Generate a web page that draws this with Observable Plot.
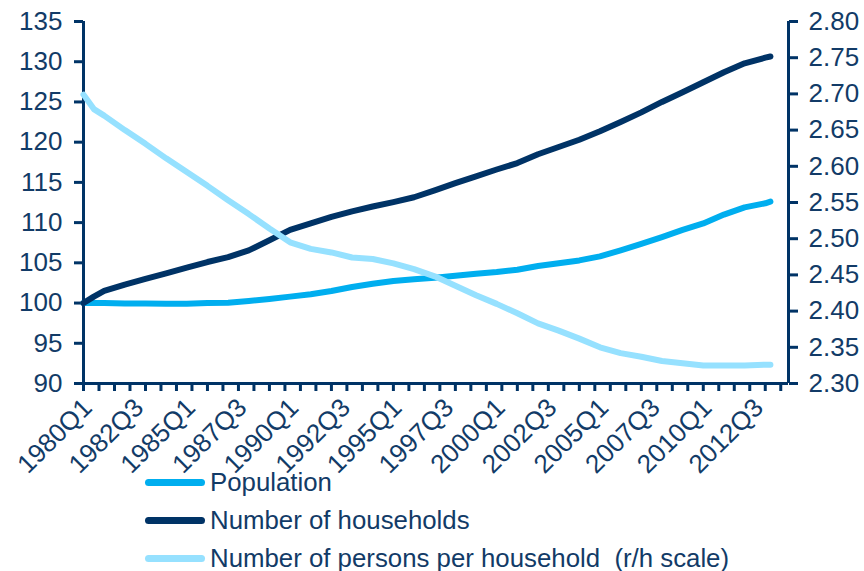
<!DOCTYPE html>
<html><head><meta charset="utf-8">
<script src="https://cdn.jsdelivr.net/npm/d3@7"></script>
<script src="https://cdn.jsdelivr.net/npm/@observablehq/plot@0.6"></script>
<style>
body{margin:0;background:#fff;font-family:"Liberation Sans",Arial,sans-serif;}
#wrap{position:relative;width:864px;height:571px;overflow:hidden;}
#wrap svg{position:absolute;left:0;top:0;}
.leg{position:absolute;left:145px;height:30px;display:flex;align-items:center;font-size:25.8px;color:#123b67;white-space:pre;}
.leg .sw{display:inline-block;width:60px;height:7px;border-radius:4px;margin-right:5px;}
</style></head><body><div id="wrap"></div>
<script>
const quarters = ["1980Q1","1980Q3","1981Q1","1982Q1","1983Q1","1984Q1","1985Q1","1986Q1","1987Q1","1988Q1","1989Q1","1990Q1","1991Q1","1992Q1","1993Q1","1994Q1","1995Q1","1996Q1","1997Q1","1998Q1","1999Q1","2000Q1","2001Q1","2002Q1","2003Q1","2004Q1","2005Q1","2006Q1","2007Q1","2008Q1","2009Q1","2010Q1","2011Q1","2012Q1","2013Q1","2013Q2"];
const population = [100.0,100.0,100.0,99.95,99.95,99.9,99.9,100.0,100.05,100.25,100.5,100.8,101.1,101.5,102.0,102.4,102.75,102.95,103.15,103.4,103.65,103.85,104.15,104.6,104.95,105.3,105.8,106.55,107.35,108.2,109.1,109.9,111.0,111.9,112.4,112.6];
const households = [100.0,100.8,101.5,102.3,103.0,103.7,104.4,105.1,105.7,106.55,107.8,109.1,109.9,110.7,111.4,112.0,112.55,113.15,114.0,114.9,115.75,116.6,117.4,118.5,119.4,120.3,121.35,122.5,123.7,125.0,126.2,127.45,128.7,129.8,130.5,130.65];
const personsPerHousehold = [2.699,2.679,2.670,2.650,2.631,2.611,2.592,2.573,2.553,2.534,2.514,2.495,2.486,2.481,2.474,2.472,2.466,2.458,2.448,2.435,2.422,2.410,2.397,2.383,2.373,2.362,2.350,2.342,2.337,2.331,2.328,2.325,2.325,2.325,2.326,2.326];
const seriesNames = ["Population","Number of households","Number of persons per household  (r/h scale)"];
const seriesColors = ["#00aeef","#003366","#96e1ff"];
const leftTicks = [90,95,100,105,110,115,120,125,130,135];
const rightTicks = [2.30,2.35,2.40,2.45,2.50,2.55,2.60,2.65,2.70,2.75,2.80];
const xLabels = ["1980Q1","1982Q3","1985Q1","1987Q3","1990Q1","1992Q3","1995Q1","1997Q3","2000Q1","2002Q3","2005Q1","2007Q3","2010Q1","2012Q3"];

const qIndex = s => (+s.slice(0,4) - 1980) * 4 + (+s.slice(5) - 1);
const qLabel = i => `${1980 + Math.floor(i/4)}Q${i % 4 + 1}`;
const toLeft = r => 90 + (r - 2.30) * 90;   // right scale 2.30–2.80 onto left 90–135
const fromLeft = v => 2.30 + (v - 90) / 90;

const rows = [];
quarters.forEach((q, i) => {
  rows.push({s: seriesNames[0], x: qIndex(q), y: population[i]});
  rows.push({s: seriesNames[1], x: qIndex(q), y: households[i]});
  rows.push({s: seriesNames[2], x: qIndex(q), y: toLeft(personsPerHousehold[i])});
});
const X_END = 136.5;
const minorTicks = d3.range(0, 136, 3);
const axisColor = "#003366", textColor = "#123b67";

const chart = Plot.plot({
  width: 864, height: 571,
  marginLeft: 83, marginRight: 76, marginTop: 21, marginBottom: 188,
  style: {fontFamily: '"Liberation Sans", Arial, sans-serif', fontSize: "26px", color: textColor, background: "transparent"},
  x: {domain: [0, X_END]},
  y: {domain: [90, 135]},
  color: {domain: seriesNames, range: seriesColors},
  marks: [
    Plot.axisY({ticks: leftTicks, tickSize: 9, tickPadding: 12, stroke: axisColor, strokeWidth: 3, fill: textColor, label: null, tickFormat: d => d}),
    Plot.axisY({ticks: rightTicks.map(toLeft), anchor: "right", tickSize: 9, tickPadding: 11, stroke: axisColor, strokeWidth: 3, fill: textColor, label: null, tickFormat: v => fromLeft(v).toFixed(2)}),
    Plot.axisX({ticks: minorTicks, tickSize: 8, stroke: axisColor, strokeWidth: 3, tickFormat: () => "", label: null}),
    Plot.axisX({ticks: xLabels.map(qIndex), tickSize: 0, tickRotate: -45, tickPadding: 20, dx: 4, fontSize: 26, fill: textColor, label: null, tickFormat: qLabel}),
    Plot.ruleX([0, X_END], {stroke: axisColor, strokeWidth: 3}),
    Plot.ruleY([90], {stroke: axisColor, strokeWidth: 3}),
    Plot.line(rows, {x: "x", y: "y", z: "s", stroke: "s", strokeWidth: 6, strokeLinecap: "round", strokeLinejoin: "round"})
  ]
});
const wrap = document.getElementById("wrap");
wrap.appendChild(chart);
const legTops = [467, 505, 543];
seriesNames.forEach((n, i) => {
  const d = document.createElement("div");
  d.className = "leg";
  d.style.top = legTops[i] + "px";
  d.innerHTML = `<span class="sw" style="background:${seriesColors[i]}"></span>`;
  d.appendChild(document.createTextNode(n));
  wrap.appendChild(d);
});
</script></body></html>
